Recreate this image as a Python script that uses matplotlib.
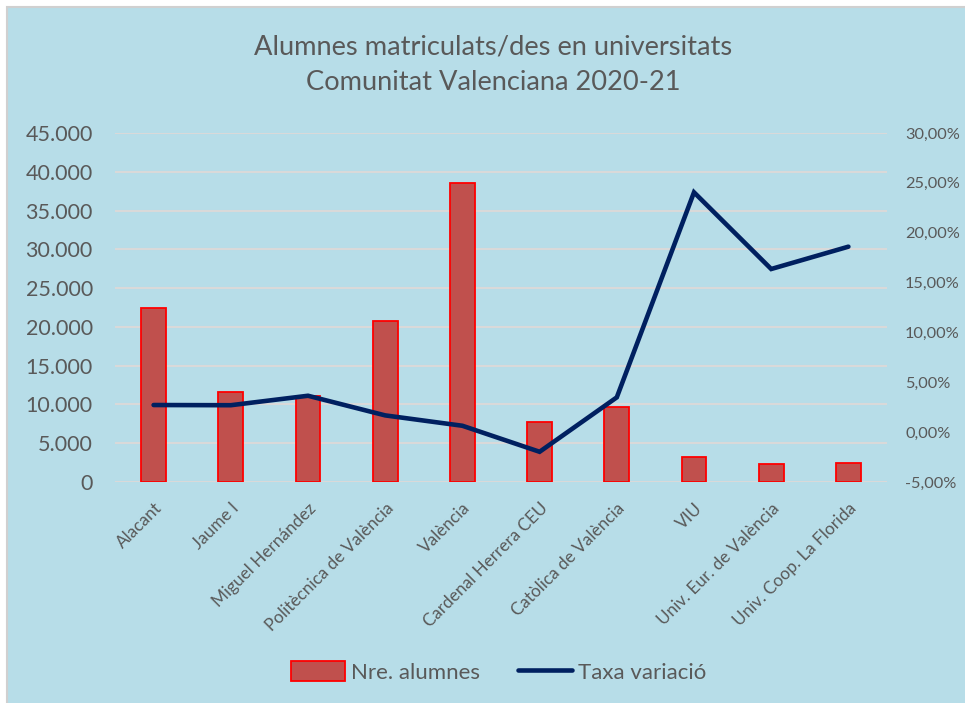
import matplotlib
matplotlib.use("Agg")
import matplotlib.pyplot as plt
from matplotlib.patches import Rectangle
from matplotlib.ticker import FuncFormatter, MultipleLocator
import numpy as np

plt.rcParams['font.family'] = ['Lato', 'DejaVu Sans']

# Data
universitats = ["Alacant", "Jaume I", "Miguel Hernández", "Politècnica de València",
                "València", "Cardenal Herrera CEU", "Catòlica de València", "VIU",
                "Univ. Eur. de València", "Univ. Coop. La Florida"]
alumnes = [22400, 11550, 11050, 20800, 38550, 7750, 9650, 3180, 2360, 2450]
taxa_variacio = [2.72, 2.70, 3.65, 1.68, 0.64, -1.97, 3.49, 24.05, 16.36, 18.6]

BG = "#B7DDE8"
TXT = "#595959"
GRID = "#D9D9D9"

fig = plt.figure(figsize=(9.65, 7.03), dpi=100)
fig.patch.set_facecolor("white")
# chart area box with grey border on top/left
fig.patches.append(Rectangle((7 / 965, -0.01), 1.0, 1 - 7 / 703 + 0.01,
                             transform=fig.transFigure, facecolor=BG,
                             edgecolor="#D0D0D0", linewidth=1.5, zorder=-10))

ax = fig.add_axes([115 / 965, 1 - 482 / 703, 772 / 965, 349 / 703])
ax.set_facecolor("none")
x = np.arange(len(universitats))

ax.bar(x, alumnes, width=0.32, color="#C0504D", edgecolor="#FF0000",
       linewidth=1.3, zorder=3, label="Nre. alumnes")
ax.set_ylim(0, 45000)
ax.set_xlim(-0.5, len(universitats) - 0.5)
ax.yaxis.set_major_locator(MultipleLocator(5000))
ax.yaxis.set_major_formatter(FuncFormatter(lambda v, p: f"{int(v):,}".replace(",", ".")))
ax.grid(axis="y", color=GRID, linewidth=1.5, zorder=0)
ax.set_axisbelow(True)
for s in ax.spines.values():
    s.set_visible(False)
ax.tick_params(axis="y", length=0, pad=16, labelsize=15.5, labelcolor=TXT)
ax.tick_params(axis="x", length=0, pad=13)
ax.set_xticks(x)
ax.set_xticklabels(universitats, rotation=45, ha="right", rotation_mode="anchor",
                   fontsize=12.3, color=TXT)

ax2 = ax.twinx()
ax2.plot(x, taxa_variacio, color="#002060", linewidth=3.3, solid_capstyle="round",
         solid_joinstyle="miter", zorder=4, label="Taxa variació")
ax2.set_ylim(-5, 30)
ax2.yaxis.set_major_locator(MultipleLocator(5))
ax2.yaxis.set_major_formatter(FuncFormatter(lambda v, p: f"{v:.2f}%".replace(".", ",")))
ax2.tick_params(axis="y", length=0, pad=13, labelsize=11.8, labelcolor=TXT)
for s in ax2.spines.values():
    s.set_visible(False)

fig.text(0.511, 1 - 47 / 703, "Alumnes matriculats/des en universitats",
         ha="center", va="center", fontsize=19.6, color=TXT)
fig.text(0.511, 1 - 82 / 703, "Comunitat Valenciana 2020-21",
         ha="center", va="center", fontsize=19.6, color=TXT)

h1, l1 = ax.get_legend_handles_labels()
h2, l2 = ax2.get_legend_handles_labels()
fig.legend(h1 + h2, l1 + l2, loc="center", bbox_to_anchor=(0.517, 1 - 672 / 703),
           ncol=2, frameon=False, fontsize=16, labelcolor=TXT,
           handlelength=2.4, handleheight=1.0, handletextpad=0.3, columnspacing=1.7)

fig.savefig("out.png", dpi=100, facecolor=fig.get_facecolor())
